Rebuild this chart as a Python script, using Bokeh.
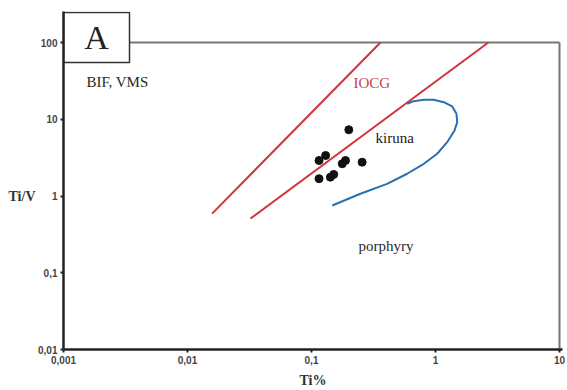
import math
from bokeh.plotting import figure
from bokeh.models import FixedTicker, CustomJSTickFormatter, Range1d, LogAxis
from bokeh.core.properties import value
from bokeh.embed import file_html
from bokeh.resources import INLINE

# ---- data ----
ti_pct = [0.200, 0.130, 0.115, 0.177, 0.188, 0.256, 0.151, 0.142, 0.115]
ti_v = [7.29, 3.37, 2.90, 2.63, 2.90, 2.76, 1.91, 1.76, 1.68]

iocg_upper_x = [0.0158, 0.360]
iocg_upper_y = [0.59, 100]
iocg_lower_x = [0.0322, 2.67]
iocg_lower_y = [0.509, 100]

kiruna_x = [0.147, 0.248, 0.407, 0.591, 0.805, 1.032, 1.242, 1.423, 1.497,
            1.476, 1.364, 1.167, 0.968, 0.805, 0.668, 0.591]
kiruna_y = [0.752, 1.07, 1.44, 1.95, 2.63, 3.55, 5.02, 7.13, 9.16,
            11.8, 14.7, 16.7, 17.9, 17.9, 17.2, 15.9]

x_ticks = [0.001, 0.01, 0.1, 1, 10]
y_ticks = [0.01, 0.1, 1, 10, 100]

field_names = ["BIF, VMS", "IOCG", "kiruna", "porphyry"]
field_x = [0.00153, 0.218, 0.328, 0.239]
field_y = [31.0, 29.3, 5.78, 0.226]
field_colors = ["#2a2a2a", "#c8404a", "#1a1a1a", "#2a2a2a"]

# ---- layout constants ----
X_MIN, X_MAX = 0.001, 10
Y_MIN, Y_MAX = 0.01, 100
PX_DEC_X = 124.0
PX_DEC_Y = 76.75
x_end = 10 ** (math.log10(X_MAX) + 3 / PX_DEC_X)
y_end = 10 ** (math.log10(Y_MAX) + 31 / PX_DEC_Y)

p = figure(width=567, height=390, output_backend="svg", toolbar_location=None,
           x_axis_type="log", y_axis_type="log",
           x_range=Range1d(X_MIN, x_end), y_range=Range1d(Y_MIN, y_end),
           min_border_left=63, min_border_right=5, min_border_top=11,
           min_border_bottom=41)
p.outline_line_color = None
p.xgrid.grid_line_color = None
p.ygrid.grid_line_color = None
p.background_fill_color = "white"
p.border_fill_color = "white"

fmt = CustomJSTickFormatter(code="return tick.toString().replace('.', ',');")
for ax, ticks in ((p.xaxis[0], x_ticks), (p.yaxis[0], y_ticks)):
    ax.ticker = FixedTicker(ticks=ticks)
    ax.formatter = fmt
    ax.axis_line_color = "#222222"
    ax.axis_line_width = 2.5
    ax.major_tick_line_color = "#222222"
    ax.major_tick_line_width = 2
    ax.major_tick_out = 3
    ax.major_tick_in = 0
    ax.minor_tick_line_color = None
    ax.major_label_text_font = "Liberation Sans"
    ax.major_label_text_font_style = "bold"
    ax.major_label_text_font_size = "10px"
    ax.major_label_text_color = "#444444"
    ax.major_label_standoff = 3

p.xaxis.axis_label = "Ti%"
p.xaxis.axis_label_text_font = "Liberation Serif"
p.xaxis.axis_label_text_font_style = "bold"
p.xaxis.axis_label_text_font_size = "14px"
p.xaxis.axis_label_text_color = "#333333"
p.xaxis.axis_label_standoff = 6

# y axis title, placed beside tick 1 as in the reference
title_ax = LogAxis(ticker=FixedTicker(ticks=[1]),
                   formatter=CustomJSTickFormatter(code="return 'Ti/V';"))
title_ax.axis_line_color = None
title_ax.major_tick_line_color = None
title_ax.minor_tick_line_color = None
title_ax.major_tick_out = 0
title_ax.major_label_standoff = 0
title_ax.major_label_text_font = "Liberation Serif"
title_ax.major_label_text_font_style = "bold"
title_ax.major_label_text_font_size = "14px"
title_ax.major_label_text_color = "#333333"
p.add_layout(title_ax, "left")

# frame: top and right border lines
box_right = 10 ** (math.log10(X_MIN) + 66 / PX_DEC_X)
box_top = 10 ** (math.log10(Y_MAX) + 30 / PX_DEC_Y)
box_bottom = 10 ** (math.log10(Y_MAX) - 20 / PX_DEC_Y)
p.line([box_right, X_MAX], [Y_MAX, Y_MAX], line_color="#777777", line_width=2)
p.line([X_MAX, X_MAX], [Y_MAX, Y_MIN], line_color="#777777", line_width=2)

# A box
p.quad(left=[X_MIN], right=[box_right], top=[box_top], bottom=[box_bottom],
       fill_color="white", line_color="#333333", line_width=1.5)
p.text(x=[10 ** (math.log10(X_MIN) + 33 / PX_DEC_X)],
       y=[10 ** (math.log10(Y_MAX) + 5 / PX_DEC_Y)], text=["A"],
       text_font=value("Liberation Serif"), text_font_size="34px",
       text_align="center", text_baseline="middle", text_color="#222222")

# field boundaries
p.line(iocg_upper_x, iocg_upper_y, line_color="#d0343f", line_width=2)
p.line(iocg_lower_x, iocg_lower_y, line_color="#d0343f", line_width=2)
p.line(kiruna_x, kiruna_y, line_color="#2a70b0", line_width=2)

# samples
p.scatter(ti_pct, ti_v, size=8, marker="circle", fill_color="#111111",
          line_color="#111111")

# field names
p.text(x=field_x, y=field_y, text=field_names, text_color=field_colors,
       text_font=value("Liberation Serif"), text_font_size="15px",
       text_align="left", text_baseline="middle")

open("out.html", "w").write(file_html(p, INLINE))
